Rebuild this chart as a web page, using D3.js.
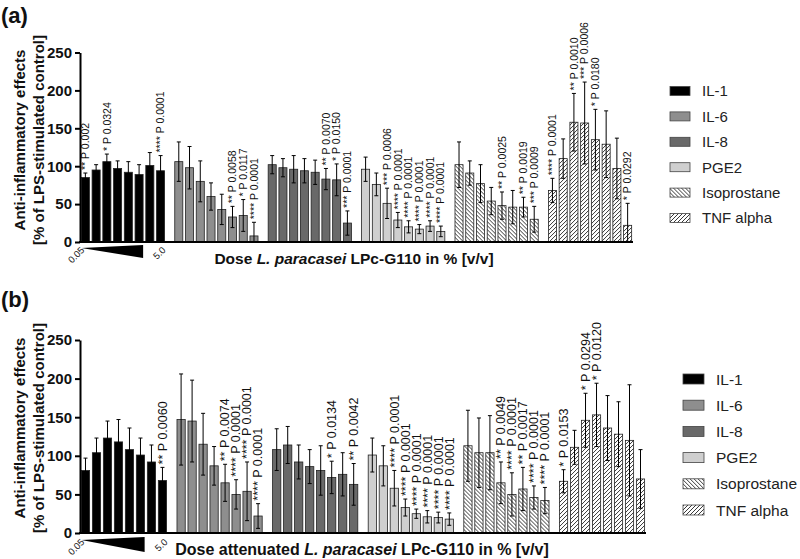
<!DOCTYPE html>
<html>
<head>
<meta charset="utf-8">
<script src="https://cdn.jsdelivr.net/npm/d3@7"></script>
<style>
  body { margin: 0; background: #fff; }
  svg { display: block; font-family: "Liberation Sans", Arial, sans-serif; }
</style>
</head>
<body>
<div id="chart"></div>
<script>
// categories
const groups = ["IL-1", "IL-6", "IL-8", "PGE2", "Isoprostane", "TNF alpha"];
const doseSteps = [1, 2, 3, 4, 5, 6, 7, 8];
const doseEnds = ["0.05", "5.0"];
const yTicks = [0, 50, 100, 150, 200, 250];

// panel (a): LPc-G110
const meanA = [
  [85, 95, 106, 97, 92, 89, 101, 94],
  [106, 98, 80, 60, 43, 33, 35, 8],
  [102, 98, 96, 94, 92, 83, 82, 25],
  [96, 76, 51, 29, 20, 17, 21, 14],
  [102, 91, 77, 54, 48, 46, 46, 30],
  [68, 110, 158, 157, 135, 129, 97, 22]
];
const errA = [
  [6, 7, 10, 10, 14, 13, 17, 20],
  [26, 28, 27, 18, 20, 14, 21, 18],
  [12, 12, 18, 16, 16, 14, 21, 16],
  [16, 15, 20, 10, 8, 6, 7, 7],
  [30, 16, 25, 18, 18, 22, 13, 17],
  [16, 26, 38, 54, 40, 44, 40, 29]
];
const sigA = [
  ["** P 0.002", "", "* P 0.0324", "", "", "", "", "**** P 0.0001"],
  ["", "", "", "", "", "** P 0.0058", "* P 0.0117", "**** P 0.0001"],
  ["", "", "", "", "", "** P 0.0070", "* P 0.0150", "*** P 0.0001"],
  ["", "", "*** P 0.0006", "**** P 0.0001", "**** P 0.0001", "**** P 0.0001", "**** P 0.0001", "**** P 0.0001"],
  ["", "", "", "", "** P 0.0025", "", "** P 0.0019", "*** P 0.0009"],
  ["**** P 0.0001", "", "** P 0.0010", "*** P 0.0006", "* P 0.0180", "", "", "* P 0.0292"]
];

// panel (b): attenuated LPc-G110
const meanB = [
  [81, 104, 123, 118, 108, 101, 92, 68],
  [147, 145, 115, 87, 65, 50, 54, 22],
  [108, 114, 92, 86, 81, 72, 76, 63],
  [101, 87, 58, 33, 25, 21, 20, 18],
  [113, 104, 104, 65, 50, 57, 46, 42],
  [67, 111, 146, 153, 136, 128, 120, 70]
];
const errB = [
  [16, 19, 22, 29, 28, 22, 22, 17],
  [59, 53, 40, 25, 24, 19, 38, 16],
  [27, 24, 22, 22, 32, 21, 28, 27],
  [22, 26, 23, 11, 6, 8, 7, 8],
  [46, 45, 48, 27, 28, 28, 15, 17],
  [15, 22, 35, 41, 42, 42, 72, 38]
];
const sigB = [
  ["", "", "", "", "", "", "", "** P 0.0060"],
  ["", "", "", "", "** P 0.0074", "**** P 0.0001", "**** P 0.0001", "**** P 0.0001"],
  ["", "", "", "", "", "* P 0.0134", "", "** P 0.0042"],
  ["", "", "**** P 0.0001", "**** P 0.0001", "**** P 0.0001", "**** P 0.0001", "**** P 0.0001", "**** P 0.0001"],
  ["", "", "", "** P 0.0049", "**** P 0.0001", "** P 0.0017", "**** P 0.0001", "**** P 0.0001"],
  ["* P 0.0153", "", "* P 0.0294", "* P 0.0120", "", "", "", ""]
];

const width = 800;
const height = 559;

const svg = d3.select("#chart")
  .append("svg")
  .attr("width", width)
  .attr("height", height);

// hatch patterns for the last two groups
const defs = svg.append("defs");
function hatch(id, d) {
  const p = defs.append("pattern")
    .attr("id", id)
    .attr("patternUnits", "userSpaceOnUse")
    .attr("width", 4)
    .attr("height", 4);
  p.append("rect").attr("width", 4).attr("height", 4).attr("fill", "#fff");
  p.append("path").attr("d", d).attr("stroke", "#222").attr("stroke-width", 0.9);
}
hatch("hatchBack", "M0,0L4,4M-1,3L1,5M3,-1L5,1");
hatch("hatchFwd", "M0,4L4,0M-1,1L1,-1M3,5L5,3");

const color = d3.scaleOrdinal()
  .domain(groups)
  .range(["#000", "#8e8e8e", "#696969", "#cfcfcf", "url(#hatchBack)", "url(#hatchFwd)"]);

function drawPanel(p) {
  const g = svg.append("g");

  const y = d3.scaleLinear().domain([0, 250]).range([p.yZero, p.yTop]);
  const x0 = d3.scaleBand().domain(groups).range([80, p.xEnd]).paddingInner(p.groupPad).paddingOuter(0);
  const x1 = d3.scaleBand().domain(doseSteps).range([0, x0.bandwidth()]).paddingInner(0.25).paddingOuter(0.125);
  const bw = x1.bandwidth();

  groups.forEach((grp, gi) => {
    const rows = doseSteps.map((d, i) => ({ d, m: p.mean[gi][i], e: p.err[gi][i], s: p.sig[gi][i] }));
    const gg = g.append("g").attr("transform", `translate(${x0(grp)},0)`);

    gg.selectAll("rect")
      .data(rows)
      .join("rect")
      .attr("x", r => x1(r.d))
      .attr("y", r => y(r.m))
      .attr("width", bw)
      .attr("height", r => y(0) - y(r.m))
      .attr("fill", color(grp))
      .attr("stroke", "#222")
      .attr("stroke-width", 0.8);

    const eb = gg.selectAll(".err")
      .data(rows)
      .join("g")
      .attr("class", "err")
      .attr("stroke", "#000")
      .attr("stroke-width", 1);
    eb.append("line")
      .attr("x1", r => x1(r.d) + bw / 2)
      .attr("x2", r => x1(r.d) + bw / 2)
      .attr("y1", r => y(Math.max(0, r.m - r.e)))
      .attr("y2", r => y(r.m + r.e));
    eb.append("line")
      .attr("x1", r => x1(r.d) + bw / 2 - 2)
      .attr("x2", r => x1(r.d) + bw / 2 + 2)
      .attr("y1", r => y(r.m + r.e))
      .attr("y2", r => y(r.m + r.e));
    eb.append("line")
      .attr("x1", r => x1(r.d) + bw / 2 - 2)
      .attr("x2", r => x1(r.d) + bw / 2 + 2)
      .attr("y1", r => y(Math.max(0, r.m - r.e)))
      .attr("y2", r => y(Math.max(0, r.m - r.e)));

    gg.selectAll(".sig")
      .data(rows.filter(r => r.s))
      .join("text")
      .attr("class", "sig")
      .attr("transform", r => `translate(${x1(r.d) + bw / 2},${y(r.m + r.e) - 3}) rotate(-90)`)
      .attr("dy", "0.35em")
      .attr("font-size", p.sigSize)
      .attr("fill", "#111")
      .text(r => r.s);
  });

  // axes
  g.append("g")
    .attr("transform", "translate(80,0)")
    .call(d3.axisLeft(y).tickValues(yTicks).tickSize(5).tickSizeOuter(0).tickPadding(3))
    .call(a => {
      a.select(".domain").attr("stroke-width", 2);
      a.selectAll(".tick line").attr("stroke-width", 2);
      a.selectAll(".tick text")
        .attr("font-size", p.tickSize)
        .attr("font-weight", "bold")
        .attr("font-family", "Liberation Sans, Arial, sans-serif")
        .attr("fill", "#111");
    });

  g.append("g")
    .attr("transform", `translate(0,${p.yZero})`)
    .call(d3.axisBottom(x0).tickSize(0).tickSizeOuter(0).tickFormat(""))
    .call(a => a.select(".domain").attr("stroke-width", 2).attr("d", `M79,0H${p.xEnd}`));

  // dose wedge under the first group
  const gx = x0(groups[0]);
  const xa = gx + x1(doseSteps[0]);
  const xb = gx + x1(doseSteps[5]) + bw;
  const wy = p.yZero + p.wedgeTop;
  g.append("path")
    .attr("d", `M${xa},${wy + 3}L${xb},${wy}L${xb},${wy + p.wedgeH}Z`)
    .attr("fill", "#000");
  g.append("text")
    .attr("transform", `translate(${xa - 1},${wy + 1}) rotate(-45)`)
    .attr("text-anchor", "end")
    .attr("dy", "0.7em")
    .attr("font-size", 9.5)
    .attr("fill", "#222")
    .text(doseEnds[0]);
  g.append("text")
    .attr("transform", `translate(${gx + x1(doseSteps[7]) + bw / 2 + 1},${wy + 1}) rotate(-45)`)
    .attr("text-anchor", "end")
    .attr("dy", "0.7em")
    .attr("font-size", 9.5)
    .attr("fill", "#222")
    .text(doseEnds[1]);

  // axis titles
  const xt = g.append("text")
    .attr("x", p.xTitleX)
    .attr("y", p.xTitleY)
    .attr("text-anchor", "middle")
    .attr("font-size", p.xTitleSize)
    .attr("font-weight", "bold")
    .attr("fill", "#111");
  xt.append("tspan").text(p.xTitle[0]);
  xt.append("tspan").attr("font-style", "italic").text(p.xTitle[1]);
  xt.append("tspan").text(p.xTitle[2]);

  const yt = g.append("text")
    .attr("transform", `translate(25,${p.yTitleY}) rotate(-90)`)
    .attr("text-anchor", "middle")
    .attr("font-size", 15)
    .attr("font-weight", "bold")
    .attr("fill", "#111");
  yt.append("tspan").attr("x", 0).attr("dy", 0).text("Anti-inflammatory effects");
  yt.append("tspan").attr("x", 0).attr("dy", 19).text("[% of LPS-stimulated control]");

  g.append("text")
    .attr("x", 1)
    .attr("y", p.labelY)
    .attr("font-size", 22)
    .attr("font-weight", "bold")
    .attr("fill", "#111")
    .text(p.label);

  // legend
  const lg = g.append("g").attr("transform", `translate(${p.legendX},${p.legendY})`);
  const item = lg.selectAll("g")
    .data(groups)
    .join("g")
    .attr("transform", (d, i) => `translate(0,${i * p.legendStep})`);
  item.append("rect")
    .attr("x", 0)
    .attr("y", -p.boxH / 2)
    .attr("width", p.boxW)
    .attr("height", p.boxH)
    .attr("fill", d => color(d))
    .attr("stroke", "#444")
    .attr("stroke-width", 0.8);
  item.append("text")
    .attr("x", p.boxW + 12)
    .attr("dy", "0.36em")
    .attr("font-size", p.legendSize)
    .attr("fill", "#222")
    .text(d => d);
}

drawPanel({
  label: "(a)", labelY: 23,
  mean: meanA, err: errA, sig: sigA,
  yZero: 242, yTop: 52.5, xEnd: 633, groupPad: 0.08,
  tickSize: 15, sigSize: 10.5, wedgeTop: 3, wedgeH: 13,
  xTitle: ["Dose ", "L. paracasei", " LPc-G110 in % [v/v]"],
  xTitleX: 354, xTitleY: 264, xTitleSize: 15.5,
  yTitleY: 140,
  legendX: 670, legendY: 91, legendStep: 25.4, boxW: 20, boxH: 9, legendSize: 15
});

drawPanel({
  label: "(b)", labelY: 307,
  mean: meanB, err: errB, sig: sigB,
  yZero: 533, yTop: 340, xEnd: 646, groupPad: 0.08,
  tickSize: 15, sigSize: 12.5, wedgeTop: 4, wedgeH: 15,
  xTitle: ["Dose attenuated ", "L. paracasei", " LPc-G110 in % [v/v]"],
  xTitleX: 362, xTitleY: 555, xTitleSize: 16,
  yTitleY: 428,
  legendX: 683, legendY: 379, legendStep: 26.2, boxW: 21, boxH: 10, legendSize: 15.5
});
</script>
</body>
</html>
